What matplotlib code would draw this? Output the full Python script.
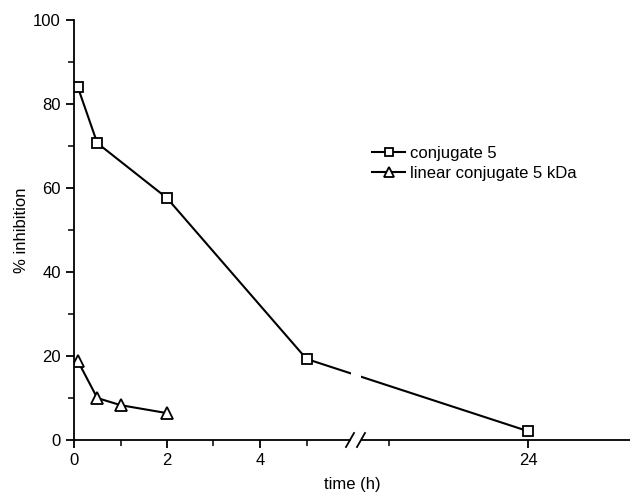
import matplotlib
matplotlib.use('Agg')
import matplotlib.pyplot as plt
import numpy as np

plt.rcParams['font.family'] = ['Liberation Sans', 'DejaVu Sans']

# data
conj_t = [0.083, 0.5, 2, 5, 24]
conj_y = [84, 70.7, 57.6, 19.3, 2.1]
lin_t = [0.083, 0.5, 1, 2]
lin_y = [18.8, 10, 8.3, 6.4]

major_x = [0, 2, 4, 24]
minor_x = [1, 3, 5, 20]

# broken x axis: 0..6.04 h linear, then 19.03 h onward compressed
xp = [-10, 6.04, 19.03, 80]
fp = [-10, 6.04, 6.05, 6.05 + (80 - 19.03) * 0.7475]

def forward(x):
    return np.interp(x, xp, fp)

def inverse(y):
    return np.interp(y, fp, xp)

fig = plt.figure(figsize=(6.3, 4.94), dpi=100)
W, H = 630 - 74, 420
ax = fig.add_axes([74/630, 54/494, W/630, H/494])
ax.set_xscale('function', functions=(forward, inverse))

ax.plot(conj_t, conj_y, '-s', color='k', lw=1.5, ms=6.5, mfc='white', mew=1.3,
        label='conjugate 5', zorder=2)
ax.plot(lin_t, lin_y, '-^', color='k', lw=1.5, ms=8, mfc='white', mew=1.3,
        label='linear conjugate 5 kDa', zorder=2)

ax.set_xlim(0, inverse(forward(0) + W / 46.5))
ax.set_ylim(0, 100)

# gap in the line at the break
ax.axvspan(5.96, 19.2, ymin=0.02, ymax=0.97, color='white', zorder=3, lw=0)

# break marks on the axis (axes fraction)
for px in (350, 361):
    xc = (px - 74) / W
    ax.plot([xc - 4/W, xc + 4/W], [-7/H, 7/H], color='k', lw=1.3,
            transform=ax.transAxes, clip_on=False, zorder=5)
ax.plot([(352 - 74)/W, (359 - 74)/W], [0, 0], color='white', lw=2.5,
        transform=ax.transAxes, clip_on=False, zorder=4)

ax.set_xticks(major_x)
ax.set_xticks(minor_x, minor=True)
ax.set_xticklabels([str(v) for v in major_x])
ax.set_yticks(np.arange(0, 101, 20))
ax.set_yticks(np.arange(10, 100, 20), minor=True)

ax.spines['top'].set_visible(False)
ax.spines['right'].set_visible(False)
ax.spines['left'].set_linewidth(1.3)
ax.spines['bottom'].set_linewidth(1.3)
ax.tick_params(which='major', direction='out', length=6, width=1.3, labelsize=12)
ax.tick_params(which='minor', direction='out', length=4, width=1.1)

ax.set_xlabel('time (h)', fontsize=12, labelpad=6)
ax.set_ylabel('% inhibition', fontsize=12, labelpad=3)

ax.legend(loc='upper left', bbox_to_anchor=(372/630, (494 - 146)/494),
          bbox_transform=fig.transFigure, frameon=False, fontsize=12,
          borderpad=0, borderaxespad=0, handlelength=2.0, handletextpad=0.3,
          labelspacing=0.3, markerscale=0.85)

fig.savefig('out.png', dpi=100)
